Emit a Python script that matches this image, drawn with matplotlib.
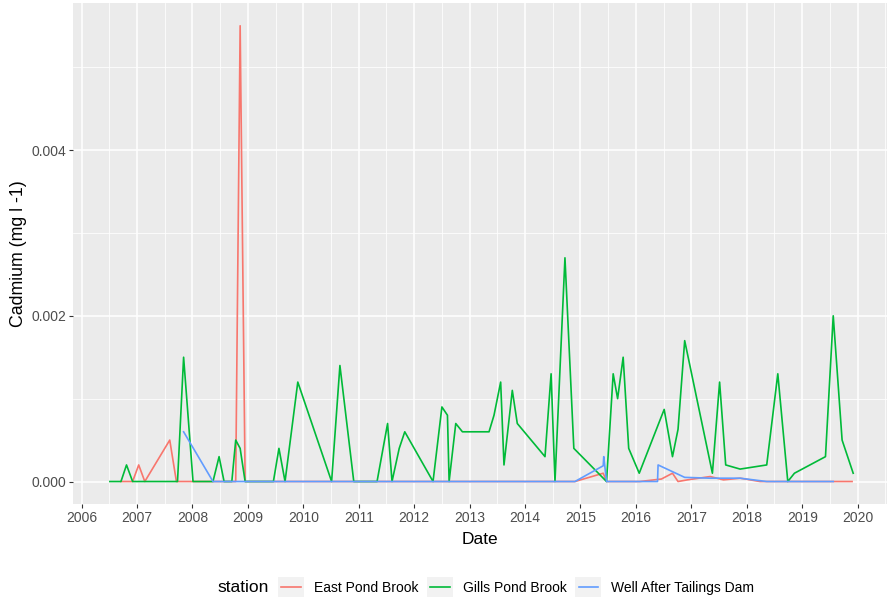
import matplotlib
matplotlib.use("Agg")
import matplotlib.pyplot as plt
from matplotlib.legend_handler import HandlerBase
from matplotlib.patches import Rectangle
from matplotlib.lines import Line2D
from matplotlib.ticker import MultipleLocator, FuncFormatter

plt.rcParams['font.family'] = ['Liberation Sans', 'DejaVu Sans']

# ---- data (decimal years, mg/l) ----
east_x = [2006.71, 2006.92, 2007.03, 2007.14, 2007.59, 2007.71, 2008.01, 2008.78, 2008.86, 2008.95,
          2009.46, 2010.51, 2011.33, 2012.34, 2013.35, 2014.36, 2014.90, 2015.41, 2015.47, 2016.07,
          2016.46, 2016.66, 2016.76, 2016.93, 2017.34, 2017.58, 2017.88, 2018.24, 2018.74, 2019.42, 2019.90]
east_y = [0, 0, 0.0002, 0, 0.0005, 0, 0, 0, 0.0055, 0,
          0, 0, 0, 0, 0, 0, 0, 0.0001, 0, 0,
          0.00003, 0.0001, 0, 0.00002, 0.00006, 0.00002, 0.00004, 0, 0, 0, 0]

gills_x = [2006.51, 2006.71, 2006.81, 2006.92, 2007.73, 2007.84, 2008.01, 2008.37, 2008.48, 2008.57,
           2008.71, 2008.78, 2008.86, 2008.95, 2009.46, 2009.56, 2009.67, 2009.90, 2010.51, 2010.66,
           2010.91, 2011.33, 2011.52, 2011.60, 2011.73, 2011.83, 2012.34, 2012.50, 2012.60, 2012.63,
           2012.75, 2012.87, 2013.35, 2013.44, 2013.56, 2013.62, 2013.77, 2013.86, 2014.36, 2014.47,
           2014.54, 2014.72, 2014.88, 2015.47, 2015.59, 2015.67, 2015.77, 2015.87, 2016.06, 2016.51,
           2016.66, 2016.76, 2016.88, 2017.38, 2017.51, 2017.62, 2017.88, 2018.36, 2018.56, 2018.74,
           2018.86, 2019.42, 2019.56, 2019.72, 2019.92]
gills_y = [0, 0, 0.0002, 0, 0, 0.0015, 0, 0, 0.0003, 0,
           0, 0.0005, 0.0004, 0, 0, 0.0004, 0, 0.0012, 0, 0.0014,
           0, 0, 0.0007, 0, 0.0004, 0.0006, 0, 0.0009, 0.0008, 0,
           0.0007, 0.0006, 0.0006, 0.0008, 0.0012, 0.0002, 0.0011, 0.0007, 0.0003, 0.0013,
           0, 0.0027, 0.0004, 0, 0.0013, 0.001, 0.0015, 0.0004, 0.0001, 0.00087,
           0.0003, 0.00063, 0.0017, 0.0001, 0.0012, 0.0002, 0.00015, 0.0002, 0.0013, 0,
           0.0001, 0.0003, 0.002, 0.0005, 0.0001]

well_x = [2007.84, 2008.37, 2014.90, 2015.41, 2015.42, 2015.47, 2016.39, 2016.40, 2016.88, 2017.34,
          2017.88, 2018.36, 2019.56]
well_y = [0.0006, 0, 0, 0.00019, 0.0003, 0, 0, 0.0002, 0.00005, 0.00004,
          0.00004, 0, 0]

stations = ["East Pond Brook", "Gills Pond Brook", "Well After Tailings Dam"]
colors = ["#F8766D", "#00BA38", "#619CFF"]
series = [(east_x, east_y), (gills_x, gills_y), (well_x, well_y)]
year_ticks = list(range(2006, 2021))

W, H = 888, 597
fig = plt.figure(figsize=(W / 100, H / 100), dpi=100)
ax = fig.add_axes([73.3 / W, 1 - 504.3 / H, (887 - 73.3) / W, (504.3 - 3) / H])
ax.set_facecolor("#EBEBEB")
for s in ax.spines.values():
    s.set_visible(False)

ax.set_xlim(2005.85, 2020.53)
ax.set_ylim(-0.000275, 0.005775)
ax.set_xticks(year_ticks)
ax.set_xticklabels([str(y) for y in year_ticks])
ax.xaxis.set_minor_locator(MultipleLocator(0.5))
ax.set_yticks([0, 0.002, 0.004])
ax.yaxis.set_minor_locator(MultipleLocator(0.001))
ax.yaxis.set_major_formatter(FuncFormatter(lambda v, p: f"{v:.3f}"))
ax.grid(which="major", color="white", lw=1.1)
ax.grid(which="minor", color="white", lw=0.55)
ax.set_axisbelow(True)
ax.tick_params(which="major", length=3, width=0.8, color="#333333", labelcolor="#4D4D4D",
               labelsize=10, pad=2)
ax.tick_params(which="minor", length=0)

handles = []
for (xs, ys), c, name in zip(series, colors, stations):
    ln, = ax.plot(xs, ys, color=c, lw=1.2, label=name)
    handles.append(ln)

ax.set_xlabel("Date", fontsize=12.5, labelpad=5)
ax.set_ylabel("Cadmium (mg l -1)", fontsize=12.8, labelpad=3)


class KeyHandler(HandlerBase):
    def create_artists(self, legend, orig_handle, xdescent, ydescent, width, height, fontsize, trans):
        r = Rectangle((-xdescent, -ydescent), width, height, facecolor="#F2F2F2",
                      edgecolor="none", transform=trans)
        pad = width * 0.13
        l = Line2D([-xdescent + pad, -xdescent + width - pad], [-ydescent + height / 2] * 2,
                   color=orig_handle.get_color(), lw=orig_handle.get_linewidth(), transform=trans)
        return [r, l]


fs = 10
px = fs * 100 / 72
leg_y = 1 - 587 / H
fig.legend(handles, stations, ncol=3, loc="center left",
           bbox_to_anchor=(278 / W, leg_y), frameon=False,
           handler_map={Line2D: KeyHandler()},
           handlelength=26 / px, handleheight=24 / px, handletextpad=9.5 / px,
           columnspacing=9 / px, borderaxespad=0, borderpad=0, fontsize=fs)
fig.text(217 / W, leg_y, "station", fontsize=12.5, va="center", ha="left")

fig.savefig("out.png", dpi=100)
